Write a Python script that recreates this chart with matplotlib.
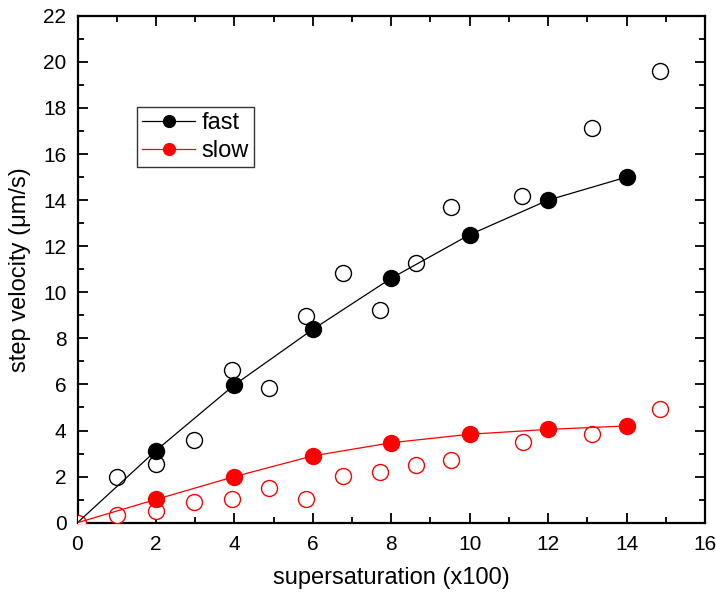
import matplotlib
matplotlib.use("Agg")
import matplotlib.pyplot as plt
from matplotlib.ticker import MultipleLocator

plt.rcParams['font.family'] = ['Liberation Sans', 'DejaVu Sans']

# Fitted lines (start at origin)
line_x = [0, 2, 4, 6, 8, 10, 12, 14]
fast_line = [0, 3.13, 5.98, 8.39, 10.61, 12.5, 14.0, 15.0]
slow_line = [0, 1.01, 2.0, 2.9, 3.47, 3.84, 4.05, 4.2]

# Filled markers
filled_x = [2, 4, 6, 8, 10, 12, 14]
fast_filled = [3.13, 5.98, 8.39, 10.61, 12.5, 14.0, 15.0]
slow_filled = [1.01, 2.0, 2.9, 3.47, 3.84, 4.05, 4.2]

# Open markers
open_x_fast = [1.0, 2.0, 2.97, 3.95, 4.89, 5.83, 6.78, 7.72, 8.62, 9.53, 11.33, 13.12, 14.84]
fast_open = [1.97, 2.53, 3.59, 6.63, 5.83, 8.98, 10.82, 9.23, 11.27, 13.69, 14.19, 17.12, 19.6]
open_x_slow = [0.0, 1.0, 2.0, 2.97, 3.95, 4.89, 5.83, 6.78, 7.72, 8.62, 9.53, 11.35, 13.12, 14.84]
slow_open = [0.0, 0.33, 0.51, 0.90, 1.01, 1.49, 1.01, 2.03, 2.21, 2.52, 2.71, 3.52, 3.84, 4.92]

fig = plt.figure(figsize=(7.16, 5.94), dpi=100)
ax = fig.add_axes([77.5/716, 1 - 522.7/594, (705 - 77.5)/716, (522.7 - 15.8)/594])

ms = 11.5
ax.plot(open_x_fast, fast_open, 'o', ms=ms, mfc='white', mec='black', mew=1.0, ls='none', zorder=3)
ax.plot(open_x_slow, slow_open, 'o', ms=ms, mfc='white', mec='red', mew=1.0, ls='none', zorder=3)

ax.plot(line_x, fast_line, '-', color='black', lw=0.9, zorder=4)
ax.plot(line_x, slow_line, '-', color='red', lw=0.9, zorder=4)
ax.plot(filled_x, fast_filled, 'o', ms=ms, color='black', ls='none', zorder=5)
ax.plot(filled_x, slow_filled, 'o', ms=ms, color='red', ls='none', zorder=5)

# legend proxies
h1, = ax.plot([], [], '-o', color='black', lw=0.9, ms=8.5, label='fast')
h2, = ax.plot([], [], '-o', color='red', lw=0.9, ms=8.5, label='slow')
leg = ax.legend(handles=[h1, h2], loc='upper left', bbox_to_anchor=(137/716, 1 - 107/594),
                bbox_transform=fig.transFigure, fontsize=17, frameon=True, fancybox=False,
                edgecolor='black', handlelength=2.25, handletextpad=0.25, borderpad=0.22,
                labelspacing=0.25, borderaxespad=0)
leg.get_frame().set_linewidth(1.0)

ax.set_xlim(0, 16)
ax.set_ylim(0, 22)
ax.xaxis.set_major_locator(MultipleLocator(2))
ax.xaxis.set_minor_locator(MultipleLocator(1))
ax.yaxis.set_major_locator(MultipleLocator(2))
ax.yaxis.set_minor_locator(MultipleLocator(1))
ax.tick_params(which='both', direction='in', top=True, right=True, labelsize=15, width=1.3)
ax.tick_params(which='major', length=7)
ax.tick_params(which='minor', length=4)
ax.tick_params(axis='y', which='major', pad=8)
ax.tick_params(axis='x', which='major', pad=9)
for s in ax.spines.values():
    s.set_linewidth(1.6)

ax.set_xlabel('supersaturation (x100)', fontsize=17, labelpad=9)
ax.set_ylabel('step velocity (μm/s)', fontsize=17, labelpad=9)

fig.savefig('out.png', dpi=100)
